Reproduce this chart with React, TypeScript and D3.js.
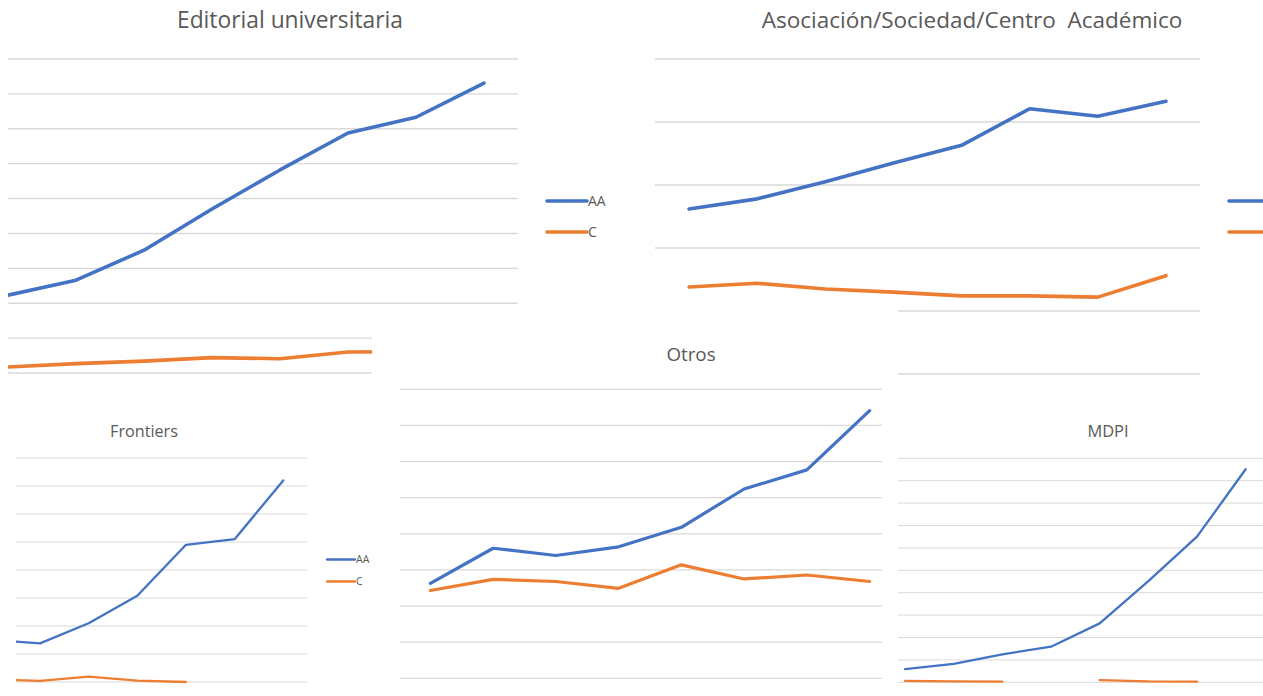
import React from 'react';
import * as d3 from 'd3';

// ---------- data ----------
const years8 = ['2013', '2014', '2015', '2016', '2017', '2018', '2019', '2020'];
const years7 = ['2014', '2015', '2016', '2017', '2018', '2019', '2020'];
const seriesNames = ['AA', 'C'];

const editorialAA = [223, 266, 352, 470, 582, 688, 733, 831];
const editorialC = [17, 27, 34, 44, 41, 60, 61, 66];

const asocAA = [262, 278, 305, 335, 363, 421, 409, 433];
const asocC = [138, 144, 135, 130, 124, 124, 122, 156];

const frontiersAA = [75, 69, 105, 154, 245, 255, 360];
const frontiersC: (number | null)[] = [5, 2, 9.5, 2.3, 0, null, null];

const otrosAA = [263, 360, 340, 364, 418, 524, 577, 741];
const otrosC = [243, 274, 268, 249, 314, 275, 286, 268];

const mdpiAA = [59, 82, 125, 159, 263, 452, 650, 951];
const mdpiC: (number | null)[] = [6, 4, 3, null, 10, 4, 3, null];

// ---------- styles ----------
const BLUE = '#4472C4';
const ORANGE = '#ED7D31';
const GRID = '#d9d9d9';
const TEXT = '#595959';
const FONT = '"Open Sans", sans-serif';

type Spec = {
  id: string;
  clip: { x: number; y: number; w: number; h: number };
  plot: { left: number; right: number; top: number; bottom: number };
  gridX0?: number;
  yMax: number;
  yStep: number;
  cats: string[];
  aa: (number | null)[];
  c: (number | null)[];
  title: string;
  titleX: number;
  titleY: number;
  titleSize: number;
  lineW: number;
  gridW: number;
  legend: { x: number; y1: number; y2: number; len: number; size: number; text: boolean };
};

const specs: Spec[] = [
  {
    id: 'editorial',
    clip: { x: 8, y: 0, w: 640, h: 378 },
    plot: { left: -26, right: 518, top: 59, bottom: 373 },
    yMax: 900,
    yStep: 100,
    cats: years8,
    aa: editorialAA,
    c: editorialC,
    title: 'Editorial universitaria',
    titleX: 290,
    titleY: 28,
    titleSize: 22.8,
    lineW: 3.6,
    gridW: 1.4,
    legend: { x: 547, y1: 201, y2: 232, len: 40, size: 14, text: true },
  },
  {
    id: 'asoc',
    clip: { x: 648, y: 0, w: 640, h: 378 },
    plot: { left: 655, right: 1200, top: 59, bottom: 374 },
    yMax: 500,
    yStep: 100,
    cats: years8,
    aa: asocAA,
    c: asocC,
    title: 'Asociación/Sociedad/Centro  Académico',
    titleX: 972,
    titleY: 28,
    titleSize: 22.5,
    lineW: 3.6,
    gridW: 1.4,
    legend: { x: 1229, y1: 201, y2: 232, len: 40, size: 14, text: false },
  },
  {
    id: 'frontiers',
    clip: { x: 16, y: 378, w: 356, h: 318 },
    plot: { left: -33, right: 307.6, top: 458, bottom: 682 },
    yMax: 400,
    yStep: 50,
    cats: years7,
    aa: frontiersAA,
    c: frontiersC,
    title: 'Frontiers',
    titleX: 144,
    titleY: 437,
    titleSize: 16.2,
    lineW: 2.3,
    gridW: 1,
    legend: { x: 327, y1: 559.5, y2: 581.5, len: 28, size: 10.5, text: true },
  },
  {
    id: 'otros',
    clip: { x: 372, y: 307, w: 526, h: 389 },
    plot: { left: 399, right: 901, top: 389.3, bottom: 678.3 },
    gridX0: 400,
    yMax: 800,
    yStep: 100,
    cats: years8,
    aa: otrosAA,
    c: otrosC,
    title: 'Otros',
    titleX: 691,
    titleY: 361,
    titleSize: 18.8,
    lineW: 3.2,
    gridW: 1.3,
    legend: { x: 930, y1: 520, y2: 550, len: 36, size: 12, text: false },
  },
  {
    id: 'mdpi',
    clip: { x: 882, y: 378, w: 381, h: 318 },
    plot: { left: 880.7, right: 1270, top: 458.3, bottom: 682.3 },
    gridX0: 898,
    yMax: 1000,
    yStep: 100,
    cats: years8,
    aa: mdpiAA,
    c: mdpiC,
    title: 'MDPI',
    titleX: 1108,
    titleY: 437,
    titleSize: 16.4,
    lineW: 2.3,
    gridW: 1,
    legend: { x: 1290, y1: 560, y2: 582, len: 28, size: 10.5, text: false },
  },
];

function Panel({ s }: { s: Spec }) {
  const x = d3.scalePoint<string>().domain(s.cats).range([s.plot.left, s.plot.right]).padding(0.5);
  const y = d3.scaleLinear().domain([0, s.yMax]).range([s.plot.bottom, s.plot.top]);
  const ticks = d3.range(0, s.yMax + 1e-6, s.yStep);
  const line = d3
    .line<number | null>()
    .defined((d) => d != null)
    .x((_, i) => x(s.cats[i]) as number)
    .y((d) => y(d as number));
  const gx0 = s.gridX0 ?? s.plot.left;
  const clipId = `clip-${s.id}`;
  return (
    <g>
      <defs>
        <clipPath id={clipId}>
          <rect x={s.clip.x} y={s.clip.y} width={s.clip.w} height={s.clip.h} />
        </clipPath>
      </defs>
      <g clipPath={`url(#${clipId})`}>
        <rect x={s.clip.x} y={s.clip.y} width={s.clip.w} height={s.clip.h} fill="#fff" />
        {ticks.map((t) => (
          <line key={t} x1={gx0} x2={s.plot.right} y1={y(t)} y2={y(t)} stroke={GRID} strokeWidth={s.gridW} />
        ))}
        <path d={line(s.aa) || ''} fill="none" stroke={BLUE} strokeWidth={s.lineW} strokeLinejoin="round" strokeLinecap="round" />
        <path d={line(s.c) || ''} fill="none" stroke={ORANGE} strokeWidth={s.lineW} strokeLinejoin="round" strokeLinecap="round" />
        <text
          x={s.titleX}
          y={s.titleY}
          textAnchor="middle"
          fontFamily={FONT}
          fontSize={s.titleSize}
          fill={TEXT}
          style={{ whiteSpace: 'pre' }}
        >
          {s.title}
        </text>
        {seriesNames.map((name, i) => {
          const ly = i === 0 ? s.legend.y1 : s.legend.y2;
          return (
            <g key={name}>
              <line x1={s.legend.x} x2={s.legend.x + s.legend.len} y1={ly} y2={ly} stroke={i === 0 ? BLUE : ORANGE} strokeWidth={s.lineW} strokeLinecap="round" />
              {s.legend.text && (
                <text x={s.legend.x + s.legend.len + 1} y={ly + s.legend.size * 0.36} fontFamily={FONT} fontSize={s.legend.size} fill={TEXT}>
                  {name}
                </text>
              )}
            </g>
          );
        })}
      </g>
    </g>
  );
}

export default function App() {
  return (
    <svg width={1263} height={696} style={{ position: 'absolute', left: 0, top: 0, background: '#fff' }}>
      <rect x={0} y={0} width={1263} height={696} fill="#fff" />
      {specs.map((s) => (
        <Panel key={s.id} s={s} />
      ))}
    </svg>
  );
}
